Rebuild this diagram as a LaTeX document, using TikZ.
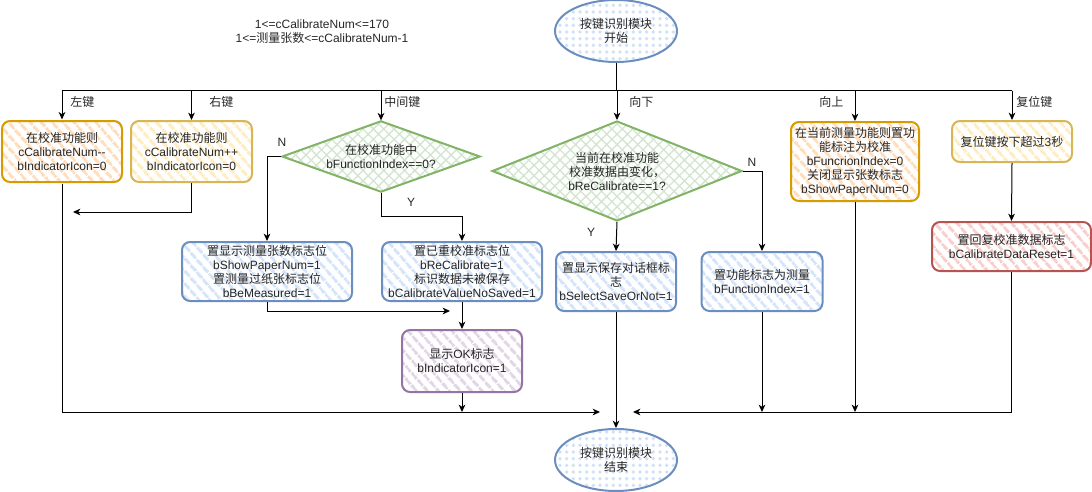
\documentclass[tikz,border=0pt]{standalone}
\usepackage{fontspec}
\setmainfont{Liberation Sans}
\newfontfamily\cjkfont{Noto Sans CJK SC}
\newcommand\zh[1]{{\cjkfont #1}}
\usetikzlibrary{shapes.geometric,arrows.meta,patterns.meta}
\definecolor{orS}{HTML}{D79B00}\definecolor{orF}{HTML}{FFDDBB}
\definecolor{yeS}{HTML}{D6B656}\definecolor{yeF}{HTML}{FFEDBF}
\definecolor{blS}{HTML}{6C8EBF}\definecolor{blF}{HTML}{D4E4FA}
\definecolor{puS}{HTML}{9673A6}\definecolor{puF}{HTML}{E1D5E7}
\definecolor{reS}{HTML}{B85450}\definecolor{reF}{HTML}{F8CECC}
\definecolor{grS}{HTML}{82B366}\definecolor{grF}{HTML}{D2E6CF}
\definecolor{dotF}{HTML}{CFE1F8}
\tikzset{
  every node/.style={font=\fontsize{9}{10.5}\selectfont, align=center, inner sep=0pt, text=black!85},
  conn/.style={draw=black, line width=0.75pt},
  arr/.style={conn, -{Stealth[length=5.5pt,width=5pt,inset=1.6pt]}},
  box/.style={rectangle, rounded corners=6pt, line width=1.5pt},
  striped/.style={preaction={fill=white}, pattern={Lines[angle=-49,distance=6.5pt,line width=2.4pt]}},
  orangebox/.style={box, striped, draw=orS, pattern color=orF},
  yellowbox/.style={box, striped, draw=yeS, pattern color=yeF},
  bluebox/.style={box, striped, draw=blS, pattern color=blF},
  purplebox/.style={box, striped, draw=puS, pattern color=puF},
  redbox/.style={box, striped, draw=reS, pattern color=reF},
  decision/.style={diamond, line width=1.5pt, draw=grS, preaction={fill=white},
    pattern={Hatch[angle=45,distance=5.5pt,line width=1pt]}, pattern color=grF},
  terminal/.style={ellipse, line width=1.5pt, draw=blS, preaction={fill=white},
    pattern={Dots[distance=5pt,radius=1.4pt]}, pattern color=dotF,
    minimum width=91.5pt, minimum height=46.5pt},
  lbl/.style={anchor=west}
}
\begin{document}
\begin{tikzpicture}[x=0.75pt,y=-0.75pt]
\useasboundingbox (0,0) rectangle (1092,492);

% note at top
\node (note) at (322,32) {1<=cCalibrateNum<=170\\1<=\zh{测量张数}<=cCalibrateNum-1};

% nodes
\node[terminal] (start) at (616,31) {\zh{按键识别模块}\\\zh{开始}};
\node[orangebox, minimum width=90pt, minimum height=45.75pt] (L) at (62,151.5)
  {\zh{在校准功能则}\\cCalibrateNum-{}-\\bIndicatorIcon=0};
\node[yellowbox, minimum width=90.75pt, minimum height=45.75pt] (R) at (191.5,151.5)
  {\zh{在校准功能则}\\cCalibrateNum++\\bIndicatorIcon=0};
\node[decision, minimum width=148.5pt, minimum height=53.25pt, aspect=2.79] (D1) at (381,156.5)
  {\zh{在校准功能中}\\bFunctionIndex==0?};
\node[bluebox, minimum width=127.5pt, minimum height=44.25pt] (B1) at (267,271.5)
  {\zh{置显示测量张数标志位}\\bShowPaperNum=1\\\zh{置测量过纸张标志位}\\bBeMeasured=1};
\node[bluebox, minimum width=120pt, minimum height=44.25pt] (B2) at (462,271.5)
  {\zh{置已重校准标志位}\\bReCalibrate=1\\\zh{标识数据未被保存}\\bCalibrateValueNoSaved=1};
\node[purplebox, minimum width=90pt, minimum height=46.5pt] (P) at (462,361)
  {\zh{显示}OK\zh{标志}\\bIndicatorIcon=1};
\node[decision, minimum width=187.5pt, minimum height=75pt, aspect=2.5] (D2) at (617,171)
  {\zh{当前在校准功能}\\\zh{校准数据由变化，}\\bReCalibrate==1?};
\node[bluebox, minimum width=90pt, minimum height=44.25pt] (S) at (616,281.5)
  {\zh{置显示保存对话框标}\\\zh{志}\\bSelectSaveOrNot=1};
\node[bluebox, minimum width=90.75pt, minimum height=44.25pt] (F) at (762,281.5)
  {\zh{置功能标志为测量}\\bFunctionIndex=1};
\node[orangebox, minimum width=96pt, minimum height=59.25pt] (U) at (855,161.5)
  {\zh{在当前测量功能则置功}\\\zh{能标注为校准}\\bFuncrionIndex=0\\\zh{关闭显示张数标志}\\bShowPaperNum=0};
\node[yellowbox, minimum width=90pt, minimum height=30.75pt] (K) at (1012,141.5)
  {\zh{复位键按下超过}3\zh{秒}};
\node[redbox, minimum width=119.25pt, minimum height=36.75pt] (Red) at (1011.5,246.5)
  {\zh{置回复校准数据标志}\\bCalibrateDataReset=1};
\node[terminal] (E) at (616,460) {\zh{按键识别模块}\\\zh{结束}};

% bus
\coordinate (bus) at (0,91);
\coordinate (bot) at (0,412);
\draw[conn] (start.south) -- (start.south |- bus);
\draw[conn] (L.north |- bus) -- (K.north |- bus);
\foreach \n in {L,R,D1,D2,U,K} \draw[arr] (\n.north |- bus) -- (\n.north);

% branch labels
\node[lbl] (lk) at (70,102) {\zh{左键}};
\node[lbl] (rk) at (209,102) {\zh{右键}};
\node[lbl] (mk) at (384,102) {\zh{中间键}};
\node[lbl] (dk) at (629,102) {\zh{向下}};
\node[lbl] (uk) at (819,102) {\zh{向上}};
\node[lbl] (sk) at (1016,102) {\zh{复位键}};
\node (n1) at (282,142) {N};
\node (y1) at (411,202) {Y};
\node (y2) at (591,232) {Y};
\node (n2) at (752,162) {N};

% connectors
\coordinate (lEnd) at (600,412);
\draw[arr] (L.south) |- (lEnd);
\coordinate (rEnd) at (73,212);
\draw[arr] (R.south) |- (rEnd);
\draw[arr] (D1.west) -| (B1.north);
\draw[arr] (D1.south) -- ++(0,23.5) -| (B2.north);
\coordinate (b1End) at (450,311);
\draw[arr] (B1.south) |- (b1End);
\draw[arr] (B2.south) -- (P.north);
\draw[arr] (P.south) -- (P.south |- bot);
\draw[arr] (D2.south) -- (S.north);
\draw[arr] (D2.east) -| (F.north);
\draw[arr] (S.south) -- (E.north);
\draw[arr] (F.south) -- (F.south |- bot);
\draw[arr] (U.south) -- (U.south |- bot);
\draw[arr] (K.south) -- (Red.north);
\coordinate (rrEnd) at (633,412);
\draw[arr] (Red.south) |- (rrEnd);
\end{tikzpicture}
\end{document}
